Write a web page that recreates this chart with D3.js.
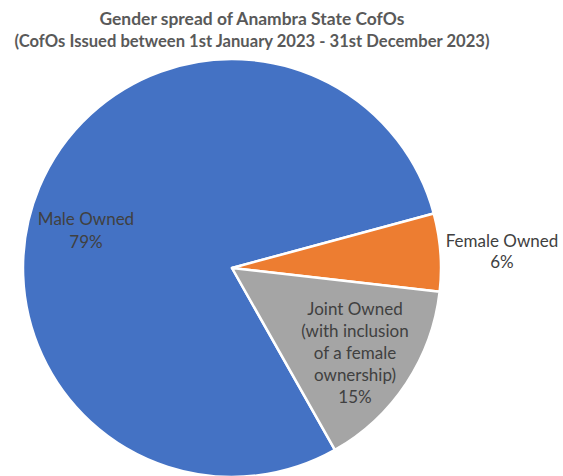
<!DOCTYPE html>
<html><head><meta charset="utf-8">
<script src="https://cdn.jsdelivr.net/npm/d3@7"></script>
<style>body{margin:0;background:#fff;}svg{display:block;}</style>
</head><body>
<svg id="c" width="563" height="476"></svg>
<script>
const categories = ["Male Owned", "Female Owned", "Joint Owned (with inclusion of a female ownership)"];
const values = [79, 6, 15];
const labelLines = [["Male Owned","79%"],["Female Owned","6%"],["Joint Owned","(with inclusion","of a female","ownership)","15%"]];
const colors = ["#4472C4", "#ED7D31", "#A5A5A5"];
const titleLines = ["Gender spread of Anambra State CofOs", "(CofOs Issued between 1st January 2023 - 31st December 2023)"];

const svg = d3.select("#c");
const cx = 232, cy = 268, r = 209;
const font = "Lato, 'Open Sans', sans-serif";

const titleW = [305, 475];
svg.selectAll("text.title").data(titleLines).enter().append("text")
  .attr("class","title")
  .attr("x", 252)
  .attr("y", (d,i)=> 25 + i*22)
  .attr("text-anchor","middle")
  .attr("font-family", font).attr("font-weight","bold").attr("font-size","16.5px")
  .attr("textLength",(d,i)=>titleW[i]).attr("lengthAdjust","spacingAndGlyphs")
  .attr("fill","#595959").text(d=>d);

const startDeg = 150.5;
const pie = d3.pie().sort(null).value(d=>d)
  .startAngle(startDeg*Math.PI/180).endAngle((startDeg+360)*Math.PI/180);
const arcs = pie(values);
const arc = d3.arc().innerRadius(0).outerRadius(r);
const g = svg.append("g").attr("transform",`translate(${cx},${cy})`);
g.selectAll("path").data(arcs).enter().append("path")
  .attr("d", arc).attr("fill",(d,i)=>colors[i])
  .attr("stroke","#fff").attr("stroke-width",2.5).attr("stroke-linejoin","round");

const labelPos = [
  {x: 86, y: 225},
  {x: 502, y: 247},
  {x: 355, y: 315}
];
const lineH = [23, 20.5, 22];
labelLines.forEach((lines,i)=>{
  const t = svg.append("text").attr("text-anchor","middle")
    .attr("font-family", font).attr("font-size","17px").attr("fill","#404040");
  lines.forEach((l,j)=>{
    t.append("tspan").attr("x", labelPos[i].x).attr("y", labelPos[i].y + j*lineH[i]).text(l);
  });
});
</script>
</body></html>
